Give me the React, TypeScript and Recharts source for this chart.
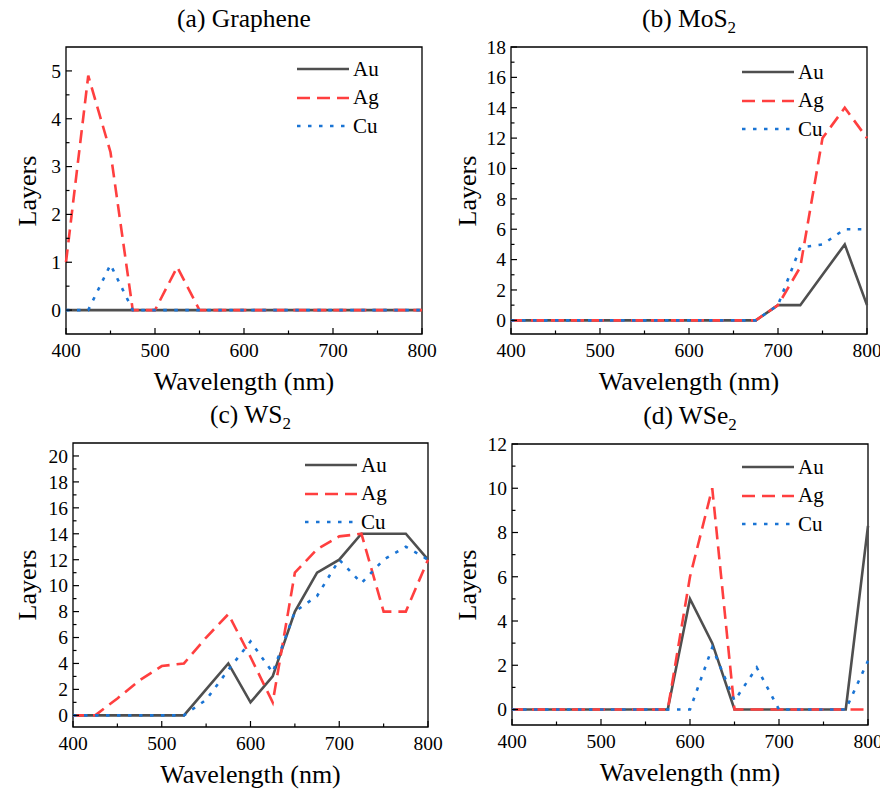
import type { ReactNode } from "react";
import { LineChart, Line, XAxis, YAxis, ReferenceArea } from "recharts";

// wavelength grid (nm)
const wavelengths = [400, 425, 450, 475, 500, 525, 550, 575, 600, 625, 650, 675, 700, 725, 750, 775, 800];

// (a) Graphene
const auGraphene = [0, 0, 0, 0, 0, 0, 0, 0, 0, 0, 0, 0, 0, 0, 0, 0, 0];
const agGraphene = [1, 4.9, 3.3, 0, 0, 0.9, 0, 0, 0, 0, 0, 0, 0, 0, 0, 0, 0];
const cuGraphene = [0, 0, 0.95, 0, 0, 0, 0, 0, 0, 0, 0, 0, 0, 0, 0, 0, 0];

// (b) MoS2
const auMoS2 = [0, 0, 0, 0, 0, 0, 0, 0, 0, 0, 0, 0, 1, 1, 3, 5, 1];
const agMoS2 = [0, 0, 0, 0, 0, 0, 0, 0, 0, 0, 0, 0, 1, 3.5, 12, 14, 12];
const cuMoS2 = [0, 0, 0, 0, 0, 0, 0, 0, 0, 0, 0, 0, 1, 4.8, 5, 6, 6];

// (c) WS2
const auWS2 = [0, 0, 0, 0, 0, 0, 2, 4, 1, 3, 8, 11, 12, 14, 14, 14, 12];
const agWS2 = [0, 0, 1.3, 2.7, 3.8, 4, 6, 7.8, 4.5, 1, 11, 12.8, 13.8, 14, 8, 8, 12];
const cuWS2 = [0, 0, 0, 0, 0, 0, 1.2, 3.5, 5.7, 3.3, 8, 9.2, 12, 10.2, 12, 13, 12];

// (d) WSe2
const auWSe2 = [0, 0, 0, 0, 0, 0, 0, 0, 5, 3, 0, 0, 0, 0, 0, 0, 8.3];
const agWSe2 = [0, 0, 0, 0, 0, 0, 0, 0, 6, 10, 0, 0, 0, 0, 0, 0, 0];
const cuWSe2 = [0, 0, 0, 0, 0, 0, 0, 0, 0, 2.8, 0.4, 1.9, 0, 0, 0, 0, 2.2];

// ticks
const xTicks = [400, 450, 500, 550, 600, 650, 700, 750, 800];
const yTicksGraphene = [0, 0.5, 1, 1.5, 2, 2.5, 3, 3.5, 4, 4.5, 5];
const yTicksMoS2 = [0, 1, 2, 3, 4, 5, 6, 7, 8, 9, 10, 11, 12, 13, 14, 15, 16, 17, 18];
const yTicksWS2 = [0, 1, 2, 3, 4, 5, 6, 7, 8, 9, 10, 11, 12, 13, 14, 15, 16, 17, 18, 19, 20];
const yTicksWSe2 = [0, 1, 2, 3, 4, 5, 6, 7, 8, 9, 10, 11, 12];

const metals = ["Au", "Ag", "Cu"];
const FONT = "Liberation Serif, serif";

const STYLE: Record<string, { color: string; dash?: string }> = {
    Au: { color: "#4f4f4f" },
    Ag: { color: "#ff3f3f", dash: "13 7" },
    Cu: { color: "#1a74d4", dash: "3.5 7.5" },
};

function rows(au: number[], ag: number[], cu: number[]) {
    return wavelengths.map((wl, i) => ({ wl, Au: au[i], Ag: ag[i], Cu: cu[i] }));
}

interface PanelProps {
    left: number;
    top: number;
    width: number;
    plot: [number, number, number, number]; // x0, y0, x1, y1 in page coords
    yDomain: [number, number];
    yTicks: number[];
    yMajor: number;
    title: ReactNode;
    legend: [number, number];
    data: { wl: number; Au: number; Ag: number; Cu: number }[];
}

const H = 396;
const Y_AXIS_W = 50;
const X_AXIS_H = 40;

function XTick(props: any) {
    const { x, y, payload } = props;
    const major = payload.value % 100 === 0;
    return (
        <g>
            <line x1={x} x2={x} y1={y} y2={y - (major ? 6 : 3.5)} stroke="#000" strokeWidth={1.2} />
            {major && (
                <text x={x} y={y + 9} dy="0.71em" textAnchor="middle" fontSize={19.5} fontFamily={FONT} fill="#000">
                    {payload.value}
                </text>
            )}
        </g>
    );
}

function makeYTick(step: number) {
    return (props: any) => {
        const { x, y, payload } = props;
        const major = Math.abs(payload.value % step) < 1e-6;
        return (
            <g>
                <line x1={x} x2={x + (major ? 6 : 3.5)} y1={y} y2={y} stroke="#000" strokeWidth={1.2} />
                {major && (
                    <text x={x - 5} y={y} dy="0.35em" textAnchor="end" fontSize={19.5} fontFamily={FONT} fill="#000">
                        {payload.value}
                    </text>
                )}
            </g>
        );
    };
}

function Panel({ left, top, width, plot, yDomain, yTicks, yMajor, title, legend, data }: PanelProps) {
    const [x0, y0, x1, y1] = plot;
    const cx = (x0 + x1) / 2;
    const cy = (y0 + y1) / 2;
    return (
        <>
            <div style={{ position: "absolute", left, top }}>
                <LineChart
                    width={width}
                    height={H}
                    data={data}
                    margin={{
                        top: y0 - top,
                        left: x0 - left - Y_AXIS_W,
                        right: left + width - x1,
                        bottom: top + H - y1 - X_AXIS_H,
                    }}
                >
                    <XAxis
                        dataKey="wl"
                        type="number"
                        domain={[400, 800]}
                        ticks={xTicks}
                        interval={0}
                        height={X_AXIS_H}
                        tickSize={0}
                        tickMargin={0}
                        tickLine={false}
                        axisLine={false}
                        tick={<XTick />}
                    />
                    <YAxis
                        type="number"
                        domain={yDomain}
                        allowDataOverflow
                        ticks={yTicks}
                        interval={0}
                        width={Y_AXIS_W}
                        tickSize={0}
                        tickMargin={0}
                        tickLine={false}
                        axisLine={false}
                        tick={makeYTick(yMajor)}
                    />
                    {metals.map((m) => (
                        <Line
                            key={m}
                            type="linear"
                            dataKey={m}
                            stroke={STYLE[m].color}
                            strokeWidth={2.6}
                            strokeDasharray={STYLE[m].dash}
                            dot={false}
                            activeDot={false}
                            isAnimationActive={false}
                        />
                    ))}
                    <ReferenceArea
                        x1={400}
                        x2={800}
                        y1={yDomain[0]}
                        y2={yDomain[1]}
                        fill="none"
                        stroke="#000"
                        strokeWidth={1.3}
                        ifOverflow="visible"
                    />
                </LineChart>
            </div>

            {/* title */}
            <div
                style={{
                    position: "absolute",
                    left: cx - 150,
                    width: 300,
                    top: y0 - 43,
                    textAlign: "center",
                    fontSize: 25.5,
                    fontFamily: FONT,
                }}
            >
                {title}
            </div>

            {/* x label */}
            <div
                style={{
                    position: "absolute",
                    left: cx - 150,
                    width: 300,
                    top: y1 + 33,
                    textAlign: "center",
                    fontSize: 26,
                    fontFamily: FONT,
                }}
            >
                Wavelength (nm)
            </div>

            {/* y label */}
            <div
                style={{
                    position: "absolute",
                    left: left + 28 - 60,
                    top: cy - 15,
                    width: 120,
                    height: 30,
                    lineHeight: "30px",
                    textAlign: "center",
                    fontSize: 26,
                    fontFamily: FONT,
                    transform: "rotate(-90deg)",
                }}
            >
                Layers
            </div>

            {/* legend */}
            {metals.map((m, i) => (
                <div
                    key={m}
                    style={{
                        position: "absolute",
                        left: legend[0],
                        top: legend[1] + i * 28.5 - 12,
                        height: 24,
                        display: "flex",
                        alignItems: "center",
                        fontFamily: FONT,
                        fontSize: 21,
                    }}
                >
                    <svg width={52} height={24} style={{ display: "block" }}>
                        <line
                            x1={0}
                            x2={52}
                            y1={12}
                            y2={12}
                            stroke={STYLE[m].color}
                            strokeWidth={2.6}
                            strokeDasharray={STYLE[m].dash}
                        />
                    </svg>
                    <span style={{ marginLeft: 4 }}>{m}</span>
                </div>
            ))}
        </>
    );
}

export default function App() {
    return (
        <div
            style={{
                position: "absolute",
                left: 0,
                top: 0,
                width: 880,
                height: 792,
                background: "#fff",
                overflow: "hidden",
            }}
        >
            <Panel
                left={0}
                top={0}
                width={460}
                plot={[66, 47, 422, 334]}
                yDomain={[-0.5, 5.5]}
                yTicks={yTicksGraphene}
                yMajor={1}
                title="(a) Graphene"
                legend={[297, 69]}
                data={rows(auGraphene, agGraphene, cuGraphene)}
            />
            <Panel
                left={440}
                top={0}
                width={440}
                plot={[511, 47, 867, 334]}
                yDomain={[-0.9, 18]}
                yTicks={yTicksMoS2}
                yMajor={2}
                title={
                    <>
                        (b) MoS<sub style={{ fontSize: 17 }}>2</sub>
                    </>
                }
                legend={[742, 72]}
                data={rows(auMoS2, agMoS2, cuMoS2)}
            />
            <Panel
                left={0}
                top={396}
                width={460}
                plot={[73, 443, 428, 727]}
                yDomain={[-0.9, 21]}
                yTicks={yTicksWS2}
                yMajor={2}
                title={
                    <>
                        (c) WS<sub style={{ fontSize: 17 }}>2</sub>
                    </>
                }
                legend={[305, 465]}
                data={rows(auWS2, agWS2, cuWS2)}
            />
            <Panel
                left={440}
                top={396}
                width={440}
                plot={[512, 444, 868, 725]}
                yDomain={[-0.7, 12]}
                yTicks={yTicksWSe2}
                yMajor={2}
                title={
                    <>
                        (d) WSe<sub style={{ fontSize: 17 }}>2</sub>
                    </>
                }
                legend={[742, 467]}
                data={rows(auWSe2, agWSe2, cuWSe2)}
            />
        </div>
    );
}
